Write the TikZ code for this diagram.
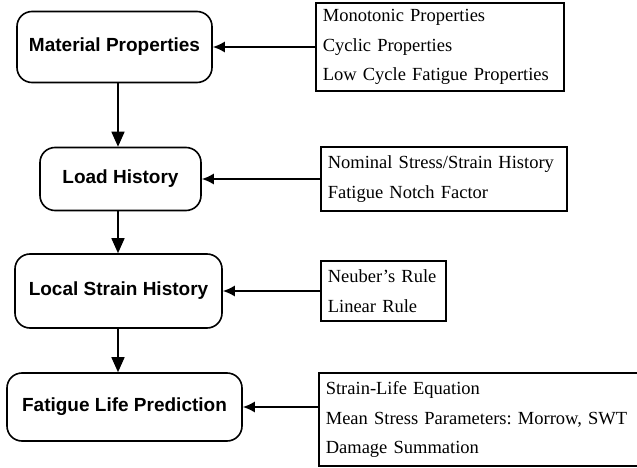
\documentclass[tikz,border=0pt]{standalone}
\usepackage{fontspec}
\setmainfont{Liberation Serif}
\setsansfont{Liberation Sans}
\usetikzlibrary{arrows.meta}

\begin{document}
\begin{tikzpicture}[
	x=1pt,y=-1pt,
	>={Triangle[length=15pt,width=13pt]},
	line width=1.6pt,
	stage/.style={draw,rounded corners=15pt,inner sep=0,align=center,font=\sffamily\bfseries\fontsize{19}{22}\selectfont},
	info/.style={draw,anchor=west,align=left,inner xsep=7pt,font=\frenchspacing\fontsize{18.5}{29.5}\selectfont},
	feed/.style={<-,>={Latex[length=12pt,width=11pt]}}
	]
	\useasboundingbox (0,0) rectangle (637,468);
	\coordinate (spine) at (118,0);
	% left column
	\node [stage,minimum width=195pt,minimum height=71pt] (mat) at (114.5,47) {Material Properties};
	\node [stage,minimum width=161pt,minimum height=63pt] (load) at (120.5,179) {Load History};
	\node [stage,minimum width=207pt,minimum height=74pt] (local) at (118.5,291) {Local Strain History};
	\node [stage,minimum width=235pt,minimum height=68pt] (fat) at (124.5,407) {Fatigue Life Prediction};
	% right column
	\node [info,text width=234pt,minimum height=88pt] (matin) at (315,47) {Monotonic Properties\\Cyclic Properties\\Low Cycle Fatigue Properties};
	\node [info,text width=232pt,minimum height=64pt] (loadin) at (320,179) {Nominal Stress/Strain History\\Fatigue Notch Factor};
	\node [info,text width=111pt,minimum height=60pt] (localin) at (320,291) {Neuber's Rule\\Linear Rule};
	\node [info,text width=310pt,minimum height=93pt] (fatin) at (318,419.5) {Strain-Life Equation\\Mean Stress Parameters: Morrow, SWT\\Damage Summation};
	% flow
	\draw[->] (mat.south -| spine) -- (load.north -| spine);
	\draw[->] (load.south -| spine) -- (local.north -| spine);
	\draw[->] (local.south -| spine) -- (fat.north -| spine);
	\draw[feed] (mat) -- (matin);
	\draw[feed] (load) -- (loadin);
	\draw[feed] (local) -- (localin);
	\draw[feed] (fat.east) -- (fat.east -| fatin.west);
\end{tikzpicture}
\end{document}
